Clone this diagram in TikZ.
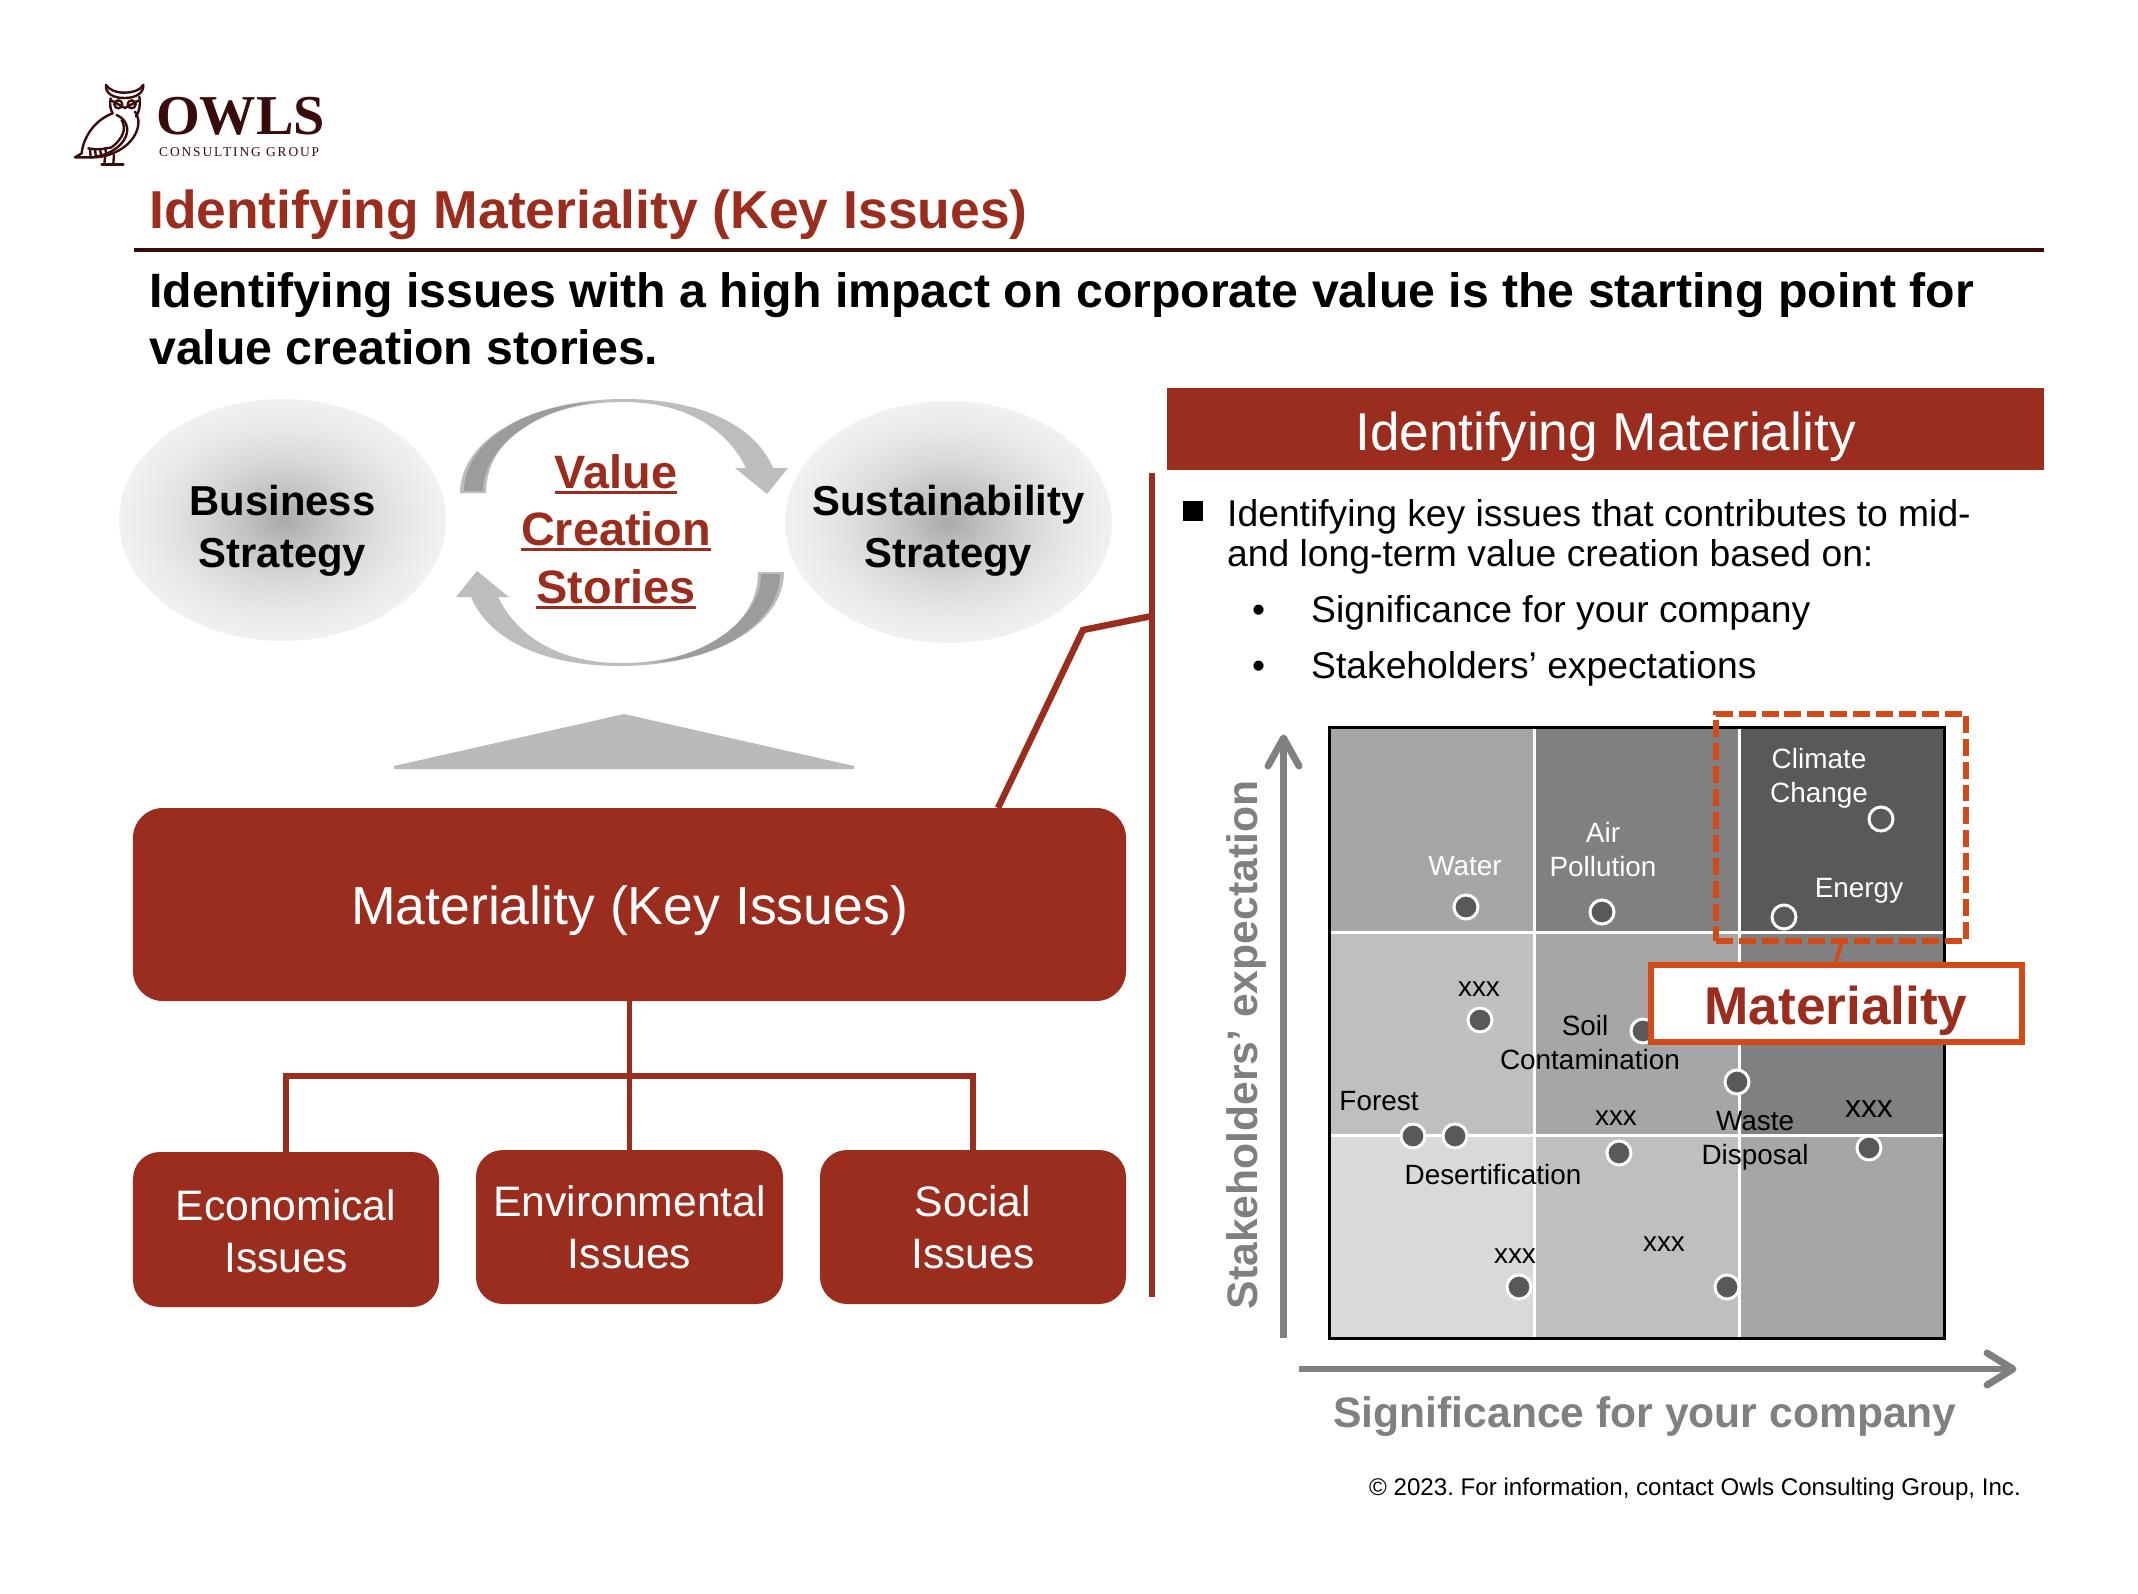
\documentclass[tikz,border=0pt]{standalone}
\usepackage{fontspec}
\setmainfont{Liberation Sans}
\newfontfamily\serifx{Liberation Serif}
\newfontfamily\serifsp[LetterSpace=14]{Liberation Serif}
\usetikzlibrary{shapes.geometric,arrows.meta}
\definecolor{brick}{HTML}{9B2D1F}
\definecolor{oranger}{HTML}{D24A18}
\definecolor{maroon}{HTML}{3A0B0B}
\definecolor{axisgray}{HTML}{808080}
\definecolor{sa}{HTML}{AAAAAA}
\definecolor{sb}{HTML}{C2C2C2}
\definecolor{sc}{HTML}{D8D8D8}
\definecolor{sd}{HTML}{E8E8E8}
\definecolor{se}{HTML}{F1F1F1}
\pgfdeclareradialshading{ellshade}{\pgfpoint{0bp}{0bp}}{color(0bp)=(sa); color(6bp)=(sb); color(12.5bp)=(sc); color(19bp)=(sd); color(25bp)=(se); color(50bp)=(se)}
\newcommand{\fs}[2]{\fontsize{#1}{#2}\selectfont}
\frenchspacing
\tikzset{
  x=1bp,y=-1bp,
  gridline/.style={white,line width=3pt},
  redline/.style={brick,line join=miter},
  redbox/.style={fill=brick,rounded corners=27pt,inner sep=0},
  boxtxt/.style={inner sep=0,text=white,align=center,font=\fs{42.8}{52}},
  ell/.style={ellipse,shade,shading=ellshade,inner sep=0,minimum width=327bp,minimum height=242bp},
  elltxt/.style={inner sep=0,align=center,font=\fs{42}{52}\bfseries},
  vcs/.style={inner sep=0,text=brick,font=\fs{47}{47}\bfseries,anchor=base},
  ul/.style={brick,line width=3pt},
  lab/.style={inner sep=0,align=center,font=\fs{28}{34},anchor=base},
  wlab/.style={lab,text=white},
  dot/.style={circle,draw=white,line width=3pt,fill=#1,minimum size=24bp,inner sep=0},
  dot/.default={black!65},
  axislab/.style={inner sep=0,text=axisgray,font=\fs{42.8}{43}\bfseries,anchor=base},
  bodytxt/.style={inner sep=0,align=left,anchor=base west,font=\fs{37.4}{40}},
  arrowband/.style={fill=black!26,draw=none},
  arrowdark/.style={fill=black!39,draw=none},
  axisline/.style={axisgray,line width=7pt,line cap=round,line join=round},
  owl/.style={maroon,line width=2.4pt,line cap=round,line join=round},
}
\newcommand{\vcarrow}{%
  \fill[arrowband] (460,493) .. controls (460,440) and (530,399) .. (624,399) .. controls (700,399) and (755,425) .. (773,468)
    -- (788,468) -- (767,494) -- (735,468) -- (746,468) .. controls (725,425) and (680,402) .. (624,402) .. controls (540,402) and (486,440) .. (486,493) -- cycle;
  \fill[arrowdark] (464,491) .. controls (464,445) and (520,405) .. (597,402) .. controls (540,408) and (483,445) .. (483,491) -- cycle;
}
\begin{document}
\begin{tikzpicture}
\fill[white] (0,0) rectangle (2138,1594);
\useasboundingbox (0,0) rectangle (2138,1594);

% logo
\begin{scope}[shift={(60,70)},x=0.3333bp,y=-0.3333bp]
  \draw[owl] (138,45) .. controls (135,70) and (160,85) .. (195,84) .. controls (225,84) and (252,70) .. (250,45);
  \draw[owl] (138,45) .. controls (150,62) and (170,68) .. (195,68) .. controls (215,68) and (240,62) .. (250,45);
  \draw[owl] (152,85) .. controls (148,105) and (152,120) .. (158,130);
  \draw[owl] (238,80) .. controls (242,105) and (238,125) .. (228,140);
  \draw[owl] (175,103) circle[radius=12];
  \draw[owl] (215,103) circle[radius=12];
  \draw[owl] (155,92) -- (195,114) -- (235,92);
  \draw[owl] (158,130) .. controls (105,150) and (70,200) .. (65,250) -- (45,262) -- (100,262) .. controls (170,262) and (240,210) .. (235,150) .. controls (232,135) and (228,130) .. (225,125);
  \draw[owl] (170,135) .. controls (205,150) and (215,190) .. (180,225) .. controls (160,245) and (130,258) .. (95,262);
  \draw[owl] (185,150) .. controls (200,175) and (190,205) .. (155,232);
  \draw[owl] (85,235) .. controls (105,240) and (130,238) .. (155,232);
  \draw[owl] (90,237) -- (92,262); \draw[owl] (105,238) -- (108,262); \draw[owl] (120,237) -- (124,258); \draw[owl] (135,235) -- (140,254);
  \draw[owl] (135,262) -- (133,282); \draw[owl] (162,255) -- (160,282); \draw[owl] (125,283) -- (190,283);
\end{scope}
\node[inner sep=0,anchor=base west,text=maroon,font=\serifx\fs{56.5}{58}\bfseries] (owls) at (156,135) {OWLS};
\node[inner sep=0,anchor=base west,text=maroon,font=\serifsp\fs{13.5}{14}] (cg) at (159,157) {CONSULTING GROUP};

% title
\node[inner sep=0,anchor=base west,text=brick,font=\fs{53.6}{55}\bfseries] (title) at (149,228) {Identifying Materiality (Key Issues)};
\draw[maroon,line width=4pt] (134,250) -- (2044,250);
\node[inner sep=0,anchor=base west,align=left,font=\fs{48.4}{57}\bfseries] (sub1) at (149,307) {Identifying issues with a high impact on corporate value is the starting point for};
\node[inner sep=0,anchor=base west,align=left,font=\fs{48.4}{57}\bfseries] (sub2) at (149,364) {value creation stories.};

% ellipses
\node[ell] (biz) at (282.5,520) {};
\node[ell] (sus) at (948.5,522) {};
\node[elltxt] (bizt) at (282.5,531) {Business\\Strategy};
\node[elltxt] (sust) at (948.5,531) {Sustainability\\Strategy};

% cycle arrows
\vcarrow
\begin{scope}[rotate around={180:(622,532.5)}]
\vcarrow
\end{scope}
\node[vcs] (v1) at (616,488) {Value};
\node[vcs] (v2) at (616,545) {Creation};
\node[vcs] (v3) at (616,603) {Stories};
\draw[ul] ([yshift=-5pt]v1.base west) -- ([yshift=-5pt]v1.base east);
\draw[ul] ([yshift=-5pt]v2.base west) -- ([yshift=-5pt]v2.base east);
\draw[ul] ([yshift=-5pt]v3.base west) -- ([yshift=-5pt]v3.base east);

% triangle
\fill[fill=black!27] (394,766) -- (624,714) -- (854,766) -- (854,769) -- (394,769) -- cycle;

% main boxes
\node[redbox,rounded corners=30pt,minimum width=993bp,minimum height=193bp] (main) at (629.5,904.5) {};
\node[boxtxt,font=\fs{53.8}{53}] (maint) at (629.5,911) {Materiality (Key Issues)};
\node[redbox,minimum width=306bp,minimum height=155bp] (eco) at (286,1229.5) {};
\node[boxtxt] (ecot) at (286,1231.5) {Economical\\Issues};
\node[redbox,minimum width=307bp,minimum height=154bp] (env) at (629.5,1227) {};
\node[boxtxt] (envt) at (629.5,1227) {Environmental\\Issues};
\node[redbox,minimum width=306bp,minimum height=154bp] (soc) at (973,1227) {};
\node[boxtxt] (soct) at (973,1227) {Social\\Issues};
\coordinate (join) at (629.5,1076);
\draw[brick,line width=5.5pt] (main.south) -- (env.north);
\draw[brick,line width=5.5pt] (eco.north) |- (join) -| (soc.north);

% bracket
\coordinate (bt) at (1152,473);
\coordinate (bb) at (1152,1297);
\coordinate (ka) at (1152,616);
\coordinate (kb) at (1083,630);
\coordinate (kc) at (998,808);
\draw[redline,line width=7pt] (bt) -- (bb);
\draw[redline,line width=6.5pt] (kc) -- (kb) -- (ka);

% header
\node[fill=brick,inner sep=0,minimum width=877bp,minimum height=82bp] (head) at (1605.5,429) {};
\node[boxtxt,font=\fs{53.5}{53}] (headt) at (1605.5,437) {Identifying Materiality};
\node[fill=black,inner sep=0,minimum size=20bp] (sq) at (1193,511) {};
\node[bodytxt] (b1) at (1227,526) {Identifying key issues that contributes to mid-};
\node[bodytxt] (b1b) at (1227,566) {and long-term value creation based on:};
\node[bodytxt] (d1) at (1252,622) {•};
\node[bodytxt] (t1) at (1311,622) {Significance for your company};
\node[bodytxt] (d2) at (1252,678) {•};
\node[bodytxt] (t2) at (1311,678) {Stakeholders’ expectations};

% matrix
\fill[black!35] (1329,727) rectangle (1534,932);
\fill[black!50] (1534,727) rectangle (1739,932);
\fill[black!65] (1739,727) rectangle (1944,932);
\fill[black!25] (1329,932) rectangle (1534,1135);
\fill[black!35] (1534,932) rectangle (1739,1135);
\fill[black!50] (1739,932) rectangle (1944,1135);
\fill[black!15] (1329,1135) rectangle (1534,1338);
\fill[black!25] (1534,1135) rectangle (1739,1338);
\fill[black!35] (1739,1135) rectangle (1944,1338);
\draw[gridline] (1534,727) -- (1534,1338);
\draw[gridline] (1739,727) -- (1739,1338);
\draw[gridline] (1329,932) -- (1944,932);
\draw[gridline] (1329,1135) -- (1944,1135);
\draw[black,line width=3pt] (1329,727) rectangle (1944,1338);

\node[wlab] (lclim) at (1819,802) {Climate\\Change};
\node[wlab] (lene) at (1859,897) {Energy};
\node[wlab] (lair) at (1603,876) {Air\\Pollution};
\node[wlab] (lwat) at (1465,875) {Water};
\node[lab] (lx1) at (1479,996) {xxx};
\node[lab] (lsoil) at (1585,1035) {Soil};
\node[lab] (lcont) at (1590,1069) {Contamination};
\node[lab] (lfor) at (1379,1110) {Forest};
\node[lab] (lx2) at (1616,1125) {xxx};
\node[lab] (lwas) at (1755,1164) {Waste\\Disposal};
\node[lab,font=\fs{32}{32}] (lx3) at (1869,1117) {xxx};
\node[lab] (ldes) at (1493,1184) {Desertification};
\node[lab] (lx4) at (1515,1263) {xxx};
\node[lab] (lx5) at (1664,1251) {xxx};

\node[dot=black!65,fill=none] (c1) at (1881,819) {};
\node[dot=black!65,fill=none] (c2) at (1784,917) {};
\node[dot] (c3) at (1466,907) {};
\node[dot] (c4) at (1602,912) {};
\node[dot] (c5) at (1480,1020) {};
\node[dot] (c6) at (1643,1031) {};
\node[dot] (c7) at (1737,1082) {};
\node[dot] (c8) at (1413,1136) {};
\node[dot] (c9) at (1455,1136) {};
\node[dot] (c10) at (1619,1153) {};
\node[dot] (c11) at (1869,1148) {};
\node[dot] (c12) at (1519,1287) {};
\node[dot] (c13) at (1727,1287) {};

% materiality callout
\node[draw=oranger,line width=5.5pt,dash pattern=on 17pt off 6pt,inner sep=0,minimum width=250bp,minimum height=227bp] (dash) at (1841,827.5) {};
\node[draw=oranger,fill=white,line width=6pt,inner sep=0,minimum width=371bp,minimum height=77bp] (mat) at (1836,1003.5) {};
\node[inner sep=0,text=brick,font=\fs{53.4}{52}\bfseries] (matt) at (1836,1011) {Materiality};
\draw[oranger,line width=4pt] (dash.south) -- (mat.north);

% axes
\coordinate (ya) at (1283.5,1338);
\coordinate (yb) at (1283.5,738);
\coordinate (xa) at (1299,1369);
\coordinate (xb) at (2013,1369);
\draw[axisline,line cap=butt] (ya) -- (yb);
\draw[axisline] (1268,766) -- (yb) -- (1299,766);
\draw[axisline,line cap=butt] (xa) -- (xb);
\draw[axisline] (1987,1353) -- (xb) -- (1987,1385);
\node[axislab] (xl) at (1645,1427) {Significance for your company};
\node[axislab,rotate=90] (yl) at (1257,1045) {Stakeholders’ expectation};

\node[inner sep=0,anchor=base east,font=\fs{24.2}{25}] (copy) at (2021,1495) {© 2023. For information, contact Owls Consulting Group, Inc.};
\end{tikzpicture}
\end{document}
